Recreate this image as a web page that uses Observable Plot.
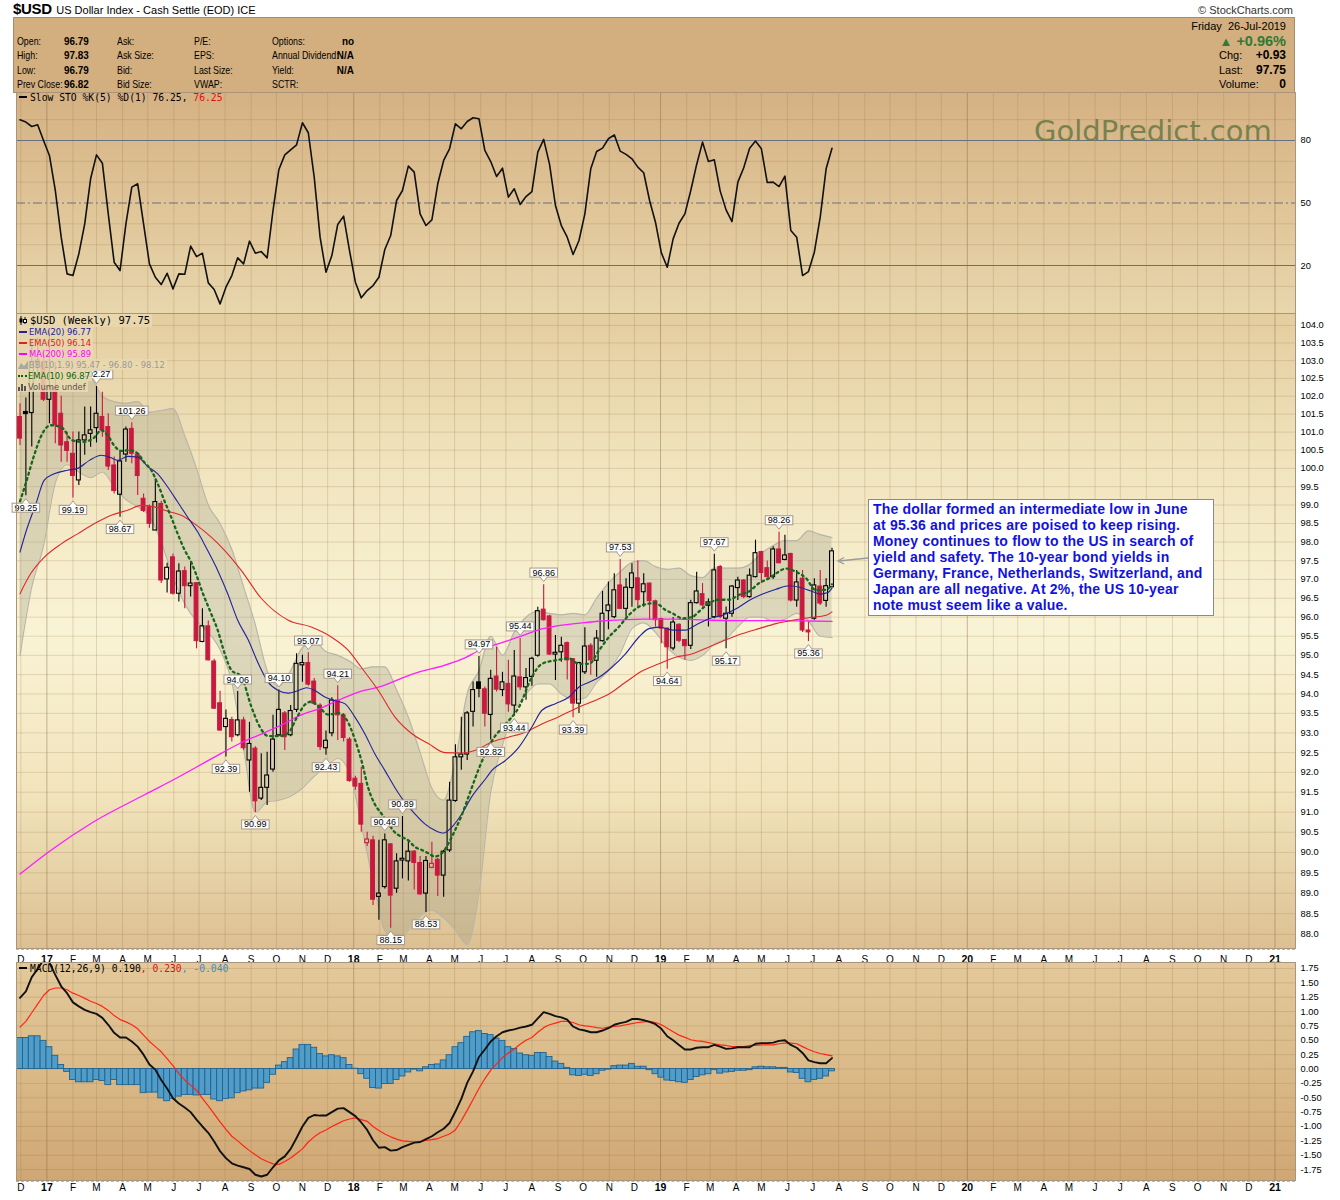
<!DOCTYPE html>
<html>
<head>
<meta charset="utf-8">
<script src="https://cdn.jsdelivr.net/npm/d3@7"></script>
<script src="https://cdn.jsdelivr.net/npm/@observablehq/plot@0.6"></script>
<style>
html,body{margin:0;padding:0;background:#fff;}
#page{position:relative;width:1340px;height:1200px;overflow:hidden;font-family:"Liberation Sans",Arial,sans-serif;color:#000;}
.a{position:absolute;white-space:nowrap;}
.hd{font-family:"Liberation Sans",Arial,sans-serif;font-size:10.5px;line-height:14px;transform:scaleX(0.84);transform-origin:left center;}
.hv{font-family:"Liberation Sans",Arial,sans-serif;font-size:11.5px;font-weight:bold;line-height:14px;transform:scaleX(0.86);transform-origin:left center;}
.hvr{font-family:"Liberation Sans",Arial,sans-serif;font-size:11.5px;font-weight:bold;line-height:14px;transform:scaleX(0.86);transform-origin:right center;}
.hr{font-family:"Liberation Sans",Arial,sans-serif;font-size:11px;line-height:14px;}
.hrb{font-family:"Liberation Sans",Arial,sans-serif;font-size:12px;font-weight:bold;line-height:14px;}
.mono{font-family:"DejaVu Sans Mono",monospace;font-size:9.7px;line-height:12px;}
.lg{font-family:"DejaVu Sans",sans-serif;font-stretch:condensed;font-size:9.3px;line-height:11px;background:rgba(234,216,176,0.85);padding:0 2px 0 1px;}
.plotwrap{position:absolute;left:0;}
</style>
</head>
<body>
<div id="page"></div>
<script>
// ---------------- DATA (weekly, first bar = week of 28-Nov-2016) ----------------
const opens = [101.42,101.56,101.53,102.95,102.95,101.90,102.25,101.51,100.72,100.40,
99.67,100.77,100.95,101.11,101.42,101.14,100.08,99.28,100.38,101.09,
100.38,99.17,98.94,98.31,99.03,97.00,97.59,96.62,97.22,96.82,
96.90,95.35,95.76,94.84,93.76,93.15,93.33,92.94,93.32,92.30,
92.60,91.34,91.61,92.07,92.94,93.50,92.94,93.59,94.74,94.80,
94.32,93.70,92.61,92.99,93.83,93.45,92.83,91.84,91.71,90.23,
90.30,88.91,89.15,90.20,89.11,89.80,89.78,90.02,89.74,88.99,
89.62,89.82,89.43,90.05,91.28,92.38,92.45,93.54,94.30,94.12,
93.46,94.45,94.10,94.26,93.70,94.43,94.17,94.44,94.99,96.20,
96.02,95.02,95.08,95.32,94.90,93.75,94.56,95.25,94.86,95.37,
96.16,96.00,96.84,96.22,96.77,97.03,96.66,96.89,96.42,95.95,
95.70,95.18,95.80,95.40,95.25,96.37,96.61,96.30,96.00,97.33,
95.96,96.09,96.77,96.97,96.53,97.06,97.73,97.30,97.06,97.80,
97.52,97.68,96.44,97.02,95.65,95.96,96.81,96.43,96.79];
const highs = [101.79,101.95,103.56,103.65,103.30,103.82,102.95,102.00,101.00,101.00,
101.00,101.70,101.70,102.27,102.11,101.51,100.31,100.45,101.14,101.26,
100.40,99.30,99.00,99.71,99.10,97.43,97.68,97.42,97.33,97.48,
96.92,96.22,95.90,94.90,94.07,93.59,93.40,94.06,93.40,93.27,
92.65,92.47,92.51,93.45,94.10,93.55,93.70,95.04,95.00,95.07,
94.40,93.75,93.05,93.90,94.21,93.50,92.88,91.90,92.13,90.50,
90.40,90.30,90.46,90.22,89.97,90.89,90.30,90.05,89.90,89.90,
90.25,89.85,90.05,91.75,92.70,93.40,93.55,94.31,94.97,94.18,
94.61,95.21,94.56,94.87,95.13,95.44,94.66,94.95,96.26,96.86,
96.05,95.52,95.47,95.35,94.92,94.82,95.72,95.30,95.65,96.68,
96.93,97.15,97.53,97.02,97.42,97.50,97.15,96.90,96.45,95.97,
95.72,95.99,95.83,95.42,96.45,97.19,96.89,96.48,97.67,97.37,
96.27,96.84,97.06,97.00,97.28,98.05,97.75,97.49,97.87,98.26,
98.18,97.70,97.24,97.24,95.87,97.02,97.24,97.02,97.83];
const lows = [100.63,99.25,100.59,102.65,101.85,101.23,100.68,100.17,100.17,99.19,
99.53,100.36,100.58,100.70,100.86,99.94,99.30,98.67,100.17,100.13,
99.26,98.80,98.37,98.31,96.89,96.64,96.58,96.40,96.22,96.53,
95.17,95.33,94.85,93.60,93.05,92.39,92.77,92.90,92.55,91.50,
90.99,91.29,91.17,92.00,92.90,92.55,92.90,93.52,94.30,94.20,
93.70,92.55,92.43,92.90,92.81,92.77,91.75,91.55,90.50,90.15,
88.70,88.34,89.10,88.15,89.00,89.35,89.30,89.08,88.95,88.53,
89.60,88.92,88.90,90.00,91.25,92.05,92.30,93.15,93.90,93.15,
92.82,94.05,93.93,93.53,93.44,94.09,93.84,94.20,94.95,95.90,
95.00,94.35,94.82,94.36,93.39,93.50,94.50,94.48,94.43,95.35,
95.67,95.96,96.20,96.00,96.26,96.26,96.26,95.92,95.74,95.30,
94.64,95.12,95.33,94.87,95.15,96.35,96.26,95.74,95.96,95.96,
95.17,96.00,96.44,96.49,96.50,97.04,96.89,96.97,97.00,97.42,
97.50,96.40,96.26,95.60,95.36,95.92,96.31,96.26,96.79];
const closes = [100.82,101.50,102.95,103.00,101.90,102.25,101.19,100.63,100.48,99.79,
100.77,100.91,101.05,101.51,101.05,100.05,99.38,100.19,101.07,100.40,
99.79,98.84,98.49,99.08,96.97,97.31,96.62,97.21,96.82,96.89,
95.37,95.76,94.87,93.62,93.06,93.36,92.89,93.32,92.61,92.72,
91.27,91.61,91.92,92.83,93.59,92.89,93.56,94.78,94.80,94.24,
93.75,92.64,92.80,93.83,93.45,92.87,91.78,91.64,90.69,90.32,
88.84,88.99,90.30,88.94,89.78,89.83,90.02,89.74,88.97,89.79,
89.72,89.43,90.02,91.29,92.38,92.45,93.50,94.10,94.13,93.49,
94.39,94.11,94.30,93.73,94.45,94.17,94.41,94.91,96.16,95.92,
95.02,95.04,95.25,94.87,93.75,94.80,95.23,94.87,95.44,96.09,
96.31,96.71,96.22,96.78,97.16,96.45,96.87,96.42,95.92,95.70,
95.21,95.86,95.38,95.24,96.37,96.68,96.31,96.39,97.24,96.00,
96.09,96.81,96.97,96.53,97.10,97.70,97.17,97.06,97.80,97.43,
97.64,96.44,96.92,95.65,95.60,96.84,96.36,96.82,97.75];

// overlays: [week index, value]
const ema10Pts = [[0,99.1],[1,99.6],[2.4,100.36],[3.8,100.96],[5.2,101.19],[7,101.14],[8.9,100.77],[10.6,100.73],[12.4,100.82],[13.8,101.05],[14.9,100.91],[16,100.63],[17.2,100.48],[18.6,100.5],[20,100.41],[21.1,100.17],[22.3,99.95],[23.4,99.58],[24.5,99.13],[25.7,98.67],[26.8,98.22],[28,97.78],[29.1,97.46],[29.9,97.15],[31.1,96.62],[32.5,96.09],[33.6,95.66],[34.8,95.04],[35.9,94.62],[37.6,94.45],[39.3,93.68],[40.7,93.17],[42.2,92.92],[43.9,92.92],[45.6,93.0],[47,93.38],[48.4,93.72],[49.5,93.8],[50.7,93.68],[52.4,93.47],[54.1,93.51],[55.5,93.34],[56.9,92.84],[58.1,92.26],[59.2,91.6],[60.3,91.2],[61.5,90.95],[62.6,90.71],[63.7,90.5],[64.9,90.38],[66,90.3],[67.1,90.14],[68.3,90.06],[69.4,89.98],[70.5,89.9],[71.7,89.98],[72.8,90.22],[73.9,90.54],[75,90.9],[76.5,91.5],[78,92.1],[80.2,92.8],[82.5,93.22],[84.8,93.66],[87,94.44],[88.7,94.78],[91,94.87],[93.3,94.92],[95,94.78],[96.7,94.78],[98.4,95.13],[100.1,95.48],[101.8,95.75],[103.5,96.06],[105.8,96.32],[108,96.37],[109.7,96.19],[110.9,96.1],[112.6,95.97],[114.3,96.01],[115.4,96.15],[117.1,96.37],[118.8,96.46],[120.5,96.46],[122.2,96.59],[123.9,96.68],[125.6,96.9],[127.3,97.03],[128.5,97.16],[130.2,97.29],[131.9,97.2],[133.6,97.03],[135.2,96.72],[136.9,96.72],[138,96.87]];
const ema20Pts = [[0,97.73],[1,98.27],[2.7,99.03],[4.1,99.67],[5.8,99.85],[8.1,99.95],[9.8,100.0],[11.8,100.22],[13.8,100.36],[15.5,100.29],[16.6,100.22],[18.3,100.33],[20,100.31],[21.7,100.05],[23.4,99.85],[25.1,99.49],[26.8,99.08],[28.5,98.67],[30.2,98.27],[31.9,97.77],[33.6,97.24],[35.3,96.62],[37,95.92],[38.8,95.4],[40.5,94.79],[42.2,94.3],[43.9,94.09],[45.6,94.02],[47.3,94.09],[48.7,94.16],[50.1,94.09],[51.8,93.92],[53.5,93.83],[55.2,93.75],[56.9,93.41],[58.6,92.98],[60.3,92.47],[62,92.05],[63.7,91.62],[65.4,91.25],[67.1,90.96],[68.8,90.71],[70.5,90.55],[72,90.48],[73.4,90.63],[75.1,90.96],[76.7,91.37],[79.3,91.87],[80.2,92.05],[82.5,92.3],[84.8,92.64],[87,93.15],[88.7,93.58],[91,93.75],[93.3,93.92],[95,94.18],[96.7,94.3],[98.4,94.43],[100.6,94.69],[102.9,95.04],[105.2,95.48],[106.9,95.7],[108.6,95.74],[110.9,95.66],[113.1,95.66],[114.8,95.79],[117.1,95.96],[119.4,96.05],[121.7,96.22],[123.9,96.44],[126.2,96.61],[128.5,96.74],[130.8,96.83],[132.5,96.79],[134.3,96.7],[136,96.61],[137.3,96.65],[138,96.77]];
const ema50Pts = [[0,96.62],[1.8,97.15],[4.1,97.59],[7,97.95],[9.8,98.22],[12.6,98.49],[15.5,98.72],[18.3,98.86],[20.6,98.99],[22.8,98.95],[25.1,98.83],[27.4,98.72],[29.7,98.49],[32.5,98.13],[34.8,97.77],[37.6,97.24],[41,96.5],[45.6,95.92],[49.5,95.74],[52.9,95.48],[55.8,95.13],[58,94.69],[60.9,94.09],[63.7,93.41],[66.6,92.98],[69.4,92.73],[72.2,92.5],[75.1,92.49],[77.4,92.56],[80.2,92.77],[83,92.89],[85.9,93.02],[88.7,93.23],[91.5,93.41],[94.4,93.62],[97.2,93.8],[100.1,94.0],[102.9,94.3],[105.8,94.6],[108.6,94.78],[111.4,94.95],[114.3,95.04],[117.1,95.22],[119.9,95.4],[122.8,95.57],[125.6,95.7],[128.5,95.83],[131.3,95.92],[134.2,95.99],[137,96.05],[138,96.14]];
const ma200Pts = [[0,89.47],[5.2,90.05],[12.4,90.75],[21.1,91.43],[26.8,91.87],[32.5,92.34],[37.6,92.75],[41,92.97],[44.4,93.2],[47.8,93.46],[51.2,93.64],[54.6,93.87],[58,94.07],[61.5,94.2],[64.9,94.41],[68.3,94.59],[71.7,94.72],[75.1,94.9],[78.5,95.16],[81.9,95.33],[85.3,95.51],[88.7,95.69],[92.1,95.79],[95.5,95.85],[98.9,95.9],[102.3,95.93],[105.8,95.95],[111.4,95.95],[117.1,95.92],[122.8,95.91],[128.5,95.91],[134.2,95.9],[138,95.89]];
const bbIdx = [0,2,4,6,8,10,12,14,16,18,20,22,24,26,28,30,32,34,36,38,40,42,44,46,48,50,52,54,56,58,60,62,64,66,68,70,72,74,76,78,80,82,84,86,88,90,92,94,96,98,100,102,104,106,108,110,112,114,116,118,120,122,124,126,128,130,132,134,136,138];
const bbUpper = [103.8,103.9,104.0,103.9,103.6,103.2,102.6,102.0,101.85,101.8,101.85,101.55,101.6,101.65,100.9,100.0,99.0,98.5,97.8,96.8,95.8,94.6,94.2,94.6,95.2,95.35,95.1,95.0,94.85,94.65,94.7,94.7,94.1,93.4,92.5,91.6,91.3,92.3,94.0,94.6,95.5,95.0,95.6,96.0,96.15,96.1,96.06,96.1,96.06,96.5,96.9,97.2,97.45,97.5,97.34,97.27,97.3,97.1,97.05,97.3,97.3,97.3,97.4,97.7,97.9,98.04,98.04,98.3,98.2,98.12];
const bbLower = [95.0,96.8,97.9,99.6,100.1,99.9,99.75,99.9,99.5,99.15,98.95,98.7,98.0,97.06,96.35,95.9,95.6,95.15,94.3,92.6,91.0,91.25,91.3,91.4,91.6,91.9,92.15,92.35,92.0,90.7,89.3,88.1,87.85,88.1,88.45,88.58,88.4,88.1,87.75,89.0,91.5,92.7,93.55,94.0,94.26,94.26,94.0,93.85,93.9,94.3,94.6,95.05,95.7,95.85,95.6,95.2,94.95,94.87,95.0,95.3,95.44,95.75,96.0,96.0,95.9,95.95,96.1,95.9,95.5,95.47];

// price labels (hi / lo flags)
const hlIdx = [1,9,17,19,13,35,37,40,44,49,52,54,62,63,65,69,78,80,84,85,89,94,102,110,118,120,129,134];
const hlVal = [99.25,99.19,98.67,101.26,102.27,92.39,94.06,90.99,94.10,95.07,92.43,94.21,90.46,88.15,90.89,88.53,94.97,92.82,93.44,95.44,96.86,93.39,97.53,94.64,97.67,95.17,98.26,95.36];
const hlPos = ["below","below","below","above","above","below","above","below","above","above","below","above","above","below","above","below","above","below","below","above","above","below","above","below","above","below","above","below"];

// Slow stochastic %K(5)
const stoValues = [89.9,88.8,86.7,87.5,80,72.8,56,33.6,16,15.2,25.6,40,61.6,73.1,69.1,44.8,21.6,17.6,40,57.6,
59.2,40,20.8,14.4,10.9,16.3,8.8,16,15.8,29.3,24.3,25.9,11.7,8.5,1.6,9.6,15.2,23.7,20.8,31.7,
25.9,26.7,23.7,46.4,66.1,73.1,75.5,77.9,88.5,83.7,62.4,33.6,16.8,24.8,39.7,43.7,27.2,12,4.5,8,
10.4,14.4,27.7,34.4,51.2,56,67.7,64.8,44.8,39.2,41.9,59.2,70.4,76,88,85.6,89.1,90.9,90.4,75.2,
69.9,62.7,66.7,52.8,56.8,49.3,53.1,55.5,74.4,80.5,68.5,48.8,39.2,33.6,25.3,32,44.8,66.4,74.7,76.3,
80.8,82.7,74.9,73.3,71.2,67.2,64.5,51.2,40.8,26.1,19.2,32.8,40.3,44.8,56,68.5,79.2,69.9,70.7,55.7,
46.7,41.1,60,66.9,76.3,79.7,76,59.8,60,57.9,62.9,36.8,33.6,15.2,17.1,26.4,43.2,66.4,76.25];

// MACD(12,26,9)
const macdValues = [1.24,1.35,1.60,1.74,1.90,1.85,1.64,1.44,1.32,1.16,1.09,1.03,0.99,0.96,0.89,0.77,0.63,0.55,0.55,0.48,
0.39,0.25,0.08,-0.01,-0.19,-0.34,-0.51,-0.60,-0.67,-0.75,-0.88,-1.00,-1.11,-1.26,-1.43,-1.55,-1.64,-1.68,-1.71,-1.74,
-1.84,-1.87,-1.84,-1.71,-1.59,-1.52,-1.39,-1.20,-1.00,-0.85,-0.80,-0.81,-0.81,-0.75,-0.69,-0.68,-0.75,-0.82,-0.93,-1.06,
-1.24,-1.37,-1.36,-1.42,-1.41,-1.36,-1.32,-1.28,-1.27,-1.22,-1.17,-1.10,-1.04,-0.94,-0.74,-0.52,-0.24,-0.04,0.21,0.34,
0.48,0.57,0.64,0.67,0.69,0.72,0.74,0.77,0.88,0.99,0.96,0.92,0.90,0.86,0.74,0.69,0.67,0.64,0.64,0.67,
0.71,0.77,0.80,0.82,0.87,0.87,0.85,0.82,0.78,0.70,0.57,0.50,0.42,0.34,0.34,0.37,0.38,0.38,0.42,0.39,
0.35,0.36,0.38,0.38,0.38,0.44,0.45,0.45,0.46,0.49,0.50,0.42,0.37,0.28,0.15,0.12,0.10,0.10,0.19];
const signalValues = [0.73,0.83,0.98,1.13,1.28,1.38,1.41,1.41,1.38,1.32,1.28,1.23,1.18,1.14,1.09,1.02,0.93,0.86,0.82,0.77,
0.70,0.59,0.48,0.39,0.30,0.18,0.06,-0.08,-0.19,-0.28,-0.37,-0.51,-0.64,-0.78,-0.92,-1.05,-1.17,-1.25,-1.34,-1.42,
-1.49,-1.56,-1.61,-1.65,-1.66,-1.61,-1.55,-1.47,-1.39,-1.27,-1.18,-1.11,-1.06,-1.00,-0.95,-0.90,-0.87,-0.85,-0.88,-0.91,
-1.00,-1.07,-1.13,-1.18,-1.22,-1.25,-1.26,-1.27,-1.27,-1.24,-1.23,-1.21,-1.17,-1.13,-1.06,-0.90,-0.72,-0.53,-0.34,-0.17,
-0.02,0.09,0.20,0.28,0.35,0.43,0.50,0.55,0.64,0.72,0.77,0.80,0.83,0.83,0.81,0.77,0.75,0.74,0.72,0.71,
0.73,0.74,0.75,0.77,0.79,0.81,0.82,0.83,0.81,0.77,0.71,0.65,0.59,0.55,0.51,0.49,0.48,0.46,0.44,0.42,
0.41,0.39,0.39,0.39,0.41,0.41,0.42,0.42,0.42,0.44,0.45,0.45,0.44,0.39,0.34,0.30,0.27,0.25,0.23];
const histValues = [0.54,0.54,0.57,0.57,0.49,0.38,0.23,0.07,-0.05,-0.19,-0.23,-0.23,-0.23,-0.19,-0.21,-0.28,-0.19,-0.28,-0.28,-0.28,
-0.28,-0.42,-0.41,-0.41,-0.51,-0.56,-0.52,-0.48,-0.45,-0.45,-0.46,-0.45,-0.45,-0.53,-0.56,-0.52,-0.51,-0.42,-0.39,-0.37,
-0.34,-0.34,-0.24,-0.10,0.06,0.12,0.19,0.34,0.42,0.42,0.37,0.26,0.22,0.24,0.22,0.19,0.07,0.005,-0.09,-0.17,
-0.33,-0.34,-0.26,-0.26,-0.19,-0.13,-0.06,-0.01,-0.04,0.03,0.07,0.08,0.15,0.24,0.38,0.45,0.56,0.64,0.66,0.61,
0.59,0.53,0.49,0.38,0.35,0.27,0.24,0.23,0.28,0.28,0.21,0.13,0.09,0.02,-0.11,-0.12,-0.10,-0.12,-0.09,-0.03,
-0.01,0.05,0.06,0.06,0.09,0.04,0.04,-0.02,-0.09,-0.15,-0.20,-0.21,-0.23,-0.24,-0.19,-0.14,-0.11,-0.09,-0.02,-0.08,
-0.06,-0.05,-0.03,-0.03,-0.02,0.03,0.04,0.03,0.03,0.02,0.02,-0.06,-0.07,-0.17,-0.23,-0.19,-0.17,-0.13,-0.04];

// axis tick values
const priceTicks = d3.range(88, 104.001, 0.5);
const stoTicks = [20, 50, 80];
const macdTicks = d3.range(-1.75, 1.7501, 0.25);
const monthLetters = "JFMAMJJASOND";

// ---------------- helpers ----------------
const DAY = 864e5, t0 = Date.UTC(2016, 10, 30);
const wk = i => new Date(t0 + i * 7 * DAY);
const xDomain = [new Date(Date.UTC(2016, 10, 25, 20)), new Date(Date.UTC(2021, 0, 25, 10))];
const W = 1340, ML = 16, MR = 45;
const RED = "#c8193f";
const ABOVE_FILL = "#010101", BELOW_FILL = "#020202";
const months = d3.utcMonth.range(new Date(Date.UTC(2016, 11, 1)), new Date(Date.UTC(2021, 1, 1)));
const gridMonths = () => Plot.ruleX(months, {x: d => d, stroke: d => d.getUTCMonth() === 0 ? "rgba(130,98,60,0.42)" : "rgba(150,115,70,0.24)"});
const pts = arr => arr.map(([i, v]) => ({date: wk(i), v}));
const page = document.getElementById("page");
function el(html, css, cls) {
  const d = document.createElement("div");
  d.className = "a" + (cls ? " " + cls : "");
  d.innerHTML = html;
  d.style.cssText += css;
  page.appendChild(d);
  return d;
}
const baseStyle = {background: "transparent", overflow: "visible", fontFamily: "Liberation Sans, Arial, sans-serif", fontSize: "9.3px"};

// ---------------- backgrounds & header ----------------
el("", "left:16px;top:92px;width:1279px;height:221px;background:linear-gradient(to bottom,#d5b183 0%,#e0c699 55%,#e8d6ad 100%);");
el("", "left:16px;top:313px;width:1279px;height:635px;background:linear-gradient(to bottom,#e4cd9f 0%,#f1e5bf 25%,#f9f3d5 50%,#f2e5bd 75%,#dcc092 100%);");
el("", "left:16px;top:962px;width:1279px;height:218px;background:linear-gradient(to bottom,#e3c99b 0%,#d9b886 55%,#cfa774 100%);");
el("", "left:16px;top:949px;width:1279px;height:12px;border-top:1px dashed #c9b0b0;border-bottom:1px dashed #c9b0b0;");
el("", "left:16px;top:1181px;width:1279px;height:0;border-top:1px dashed #c9b0b0;");

el('<b style="font-size:15px;letter-spacing:-0.3px">$USD</b> <span style="font-size:11px">US Dollar Index - Cash Settle (EOD) ICE</span>', "left:13px;top:0px;line-height:17px;");
el("© StockCharts.com", "right:47px;top:3px;font-size:11px;color:#333;line-height:14px;");
el("", "left:13px;top:17px;width:1282px;height:76px;box-sizing:border-box;background:#d3ae7e;border:1px solid #a68c6c;");

const rowsY = [41, 55, 70, 84];
const hdr = [
  [17, ["Open:", "High:", "Low:", "Prev Close:"]],
  [117, ["Ask:", "Ask Size:", "Bid:", "Bid Size:"]],
  [194, ["P/E:", "EPS:", "Last Size:", "VWAP:"]],
  [272, ["Options:", "Annual Dividend:", "Yield:", "SCTR:"]]
];
hdr.forEach(([x, labels]) => labels.forEach((t, k) => el(t, `left:${x}px;top:${rowsY[k] - 7}px;`, "hd")));
["96.79", "97.83", "96.79", "96.82"].forEach((t, k) => el(t, `left:64px;top:${rowsY[k] - 7}px;`, "hv"));
["no", "N/A", "N/A"].forEach((t, k) => el(t, `right:${1340 - 354}px;top:${rowsY[k] - 7}px;`, "hvr"));
el("Friday&nbsp;&nbsp;26-Jul-2019", "right:54px;top:19px;", "hr");
el('<span style="font-size:13px">&#9650;</span> +0.96%', "right:54px;top:33px;color:#2f7a34;font-size:14.5px;font-weight:bold;line-height:16px;");
["Chg:", "Last:", "Volume:"].forEach((t, k) => el(t, `left:1219px;top:${rowsY[k + 1] - 7}px;`, "hr"));
["+0.93", "97.75", "0"].forEach((t, k) => el(t, `right:54px;top:${rowsY[k + 1] - 7}px;`, "hrb"));

// ---------------- stochastic panel ----------------
const sto = stoValues.map((v, i) => ({date: wk(i), v}));
const stoPlot = Plot.plot({
  width: W, height: 221, marginLeft: ML, marginRight: MR, marginTop: 0, marginBottom: 0,
  x: {type: "utc", domain: xDomain, axis: null},
  y: {domain: [-3, 103], axis: null},
  style: baseStyle,
  marks: [
    gridMonths(),
    Plot.ruleY([10, 30, 40, 60, 70, 90], {stroke: "rgba(150,115,70,0.22)"}),
    Plot.ruleY([80, 20], {stroke: "#67707f", strokeWidth: 1.1}),
    Plot.ruleY([50], {stroke: "#67707f", strokeWidth: 1, strokeDasharray: "9,3,2,3"}),
    Plot.line(sto, {x: "date", y: "v", stroke: "#111", strokeWidth: 1.6, clip: true}),
    Plot.text(stoTicks, {y: d => d, text: d => String(d), frameAnchor: "right", textAnchor: "start", dx: 5, fontSize: 9.3, fill: "#000"}),
    Plot.frame({stroke: "#a8957c"})
  ]
});
const w1 = document.createElement("div"); w1.className = "plotwrap"; w1.style.top = "92px"; w1.appendChild(stoPlot); page.appendChild(w1);

el("GoldPredict.com", "left:1034px;top:114px;font-family:'DejaVu Sans',sans-serif;font-size:29px;line-height:34px;color:#6f7c48;opacity:0.9;");
el('<span style="display:inline-block;width:8px;height:2px;background:#000;vertical-align:middle;margin-right:3px;margin-bottom:2px"></span>Slow STO %K(5) %D(1) 76.25, <span style="color:#e01010">76.25</span>', "left:19px;top:92px;", "mono");

// ---------------- price panel ----------------
const candles = opens.map((o, i) => {
  const c = closes[i], prev = i ? closes[i - 1] : Infinity;
  const col = c < prev ? RED : "#000";
  let lo = Math.min(o, c), hi = Math.max(o, c);
  if (hi / lo < 1.0005) hi = lo * 1.0005;
  return {date: wk(i), x1: new Date(+wk(i) - 2.3 * DAY), x2: new Date(+wk(i) + 2.3 * DAY), o, h: highs[i], l: lows[i], c, col, lo, hi, filled: c < o};
});
const bb = bbIdx.map((i, k) => ({date: wk(i), upper: bbUpper[k], lower: bbLower[k]}));
const hl = hlIdx.map((i, k) => ({date: wk(i), v: hlVal[k], pos: hlPos[k]}));

const pricePlot = Plot.plot({
  width: W, height: 635, marginLeft: ML, marginRight: MR, marginTop: 0, marginBottom: 0,
  x: {type: "utc", domain: xDomain, axis: null},
  y: {type: "log", domain: [87.66, 104.34], axis: null},
  style: baseStyle,
  marks: [
    gridMonths(),
    Plot.ruleY(priceTicks, {stroke: "rgba(150,115,70,0.22)"}),
    Plot.areaY(bb, {x: "date", y1: "lower", y2: "upper", fill: "#9d9a88", fillOpacity: 0.3, curve: "monotone-x", clip: true}),
    Plot.line(bb, {x: "date", y: "upper", stroke: "#b9b6a8", strokeWidth: 1.2, curve: "monotone-x", clip: true}),
    Plot.line(bb, {x: "date", y: "lower", stroke: "#b9b6a8", strokeWidth: 1.2, curve: "monotone-x", clip: true}),
    Plot.ruleX(candles, {x: "date", y1: "l", y2: "lo", stroke: "col", strokeWidth: 1.1, clip: true}),
    Plot.ruleX(candles, {x: "date", y1: "hi", y2: "h", stroke: "col", strokeWidth: 1.1, clip: true}),
    Plot.rect(candles.filter(d => d.filled), {x1: "x1", x2: "x2", y1: "lo", y2: "hi", fill: "col", stroke: "col", strokeWidth: 1, clip: true}),
    Plot.rect(candles.filter(d => !d.filled), {x1: "x1", x2: "x2", y1: "lo", y2: "hi", fill: "none", stroke: "col", strokeWidth: 1.1, clip: true}),
    Plot.line(pts(ma200Pts), {x: "date", y: "v", stroke: "#ff1cff", strokeWidth: 1.3, curve: "monotone-x", clip: true}),
    Plot.line(pts(ema50Pts), {x: "date", y: "v", stroke: "#dd2a2a", strokeWidth: 1.1, curve: "monotone-x", clip: true}),
    Plot.line(pts(ema20Pts), {x: "date", y: "v", stroke: "#22229a", strokeWidth: 1.1, curve: "monotone-x", clip: true}),
    Plot.line(pts(ema10Pts), {x: "date", y: "v", stroke: "#17661a", strokeWidth: 2.3, strokeDasharray: "2,3.6", curve: "monotone-x", clip: true}),
    Plot.text(priceTicks, {y: d => d, text: d => d.toFixed(1), frameAnchor: "right", textAnchor: "start", dx: 5, fontSize: 9.3, fill: "#000"}),
    Plot.text(hl.filter(d => d.pos === "above"), {x: "date", y: "v", text: d => d.v.toFixed(2), dy: -12, fontSize: 9, fill: ABOVE_FILL}),
    Plot.text(hl.filter(d => d.pos === "below"), {x: "date", y: "v", text: d => d.v.toFixed(2), dy: 12, fontSize: 9, fill: BELOW_FILL}),
    Plot.frame({stroke: "#a8957c"})
  ]
});
const w2 = document.createElement("div"); w2.className = "plotwrap"; w2.style.top = "313px"; w2.appendChild(pricePlot); page.appendChild(w2);

// white flag boxes behind the hi/lo labels
(function decorate(svg) {
  const ns = "http://www.w3.org/2000/svg";
  const fillOf = t => (t.getAttribute("fill") || (t.parentNode && t.parentNode.getAttribute && t.parentNode.getAttribute("fill")) || "").toLowerCase();
  Array.from(svg.querySelectorAll("text")).forEach(t => {
    const f = fillOf(t);
    const pos = f === ABOVE_FILL ? "above" : f === BELOW_FILL ? "below" : null;
    if (!pos) return;
    try {
      const b = t.getBBox();
      const tr = t.getAttribute("transform");
      const g = document.createElementNS(ns, "g");
      if (tr) g.setAttribute("transform", tr);
      const x0 = b.x - 2.5, y0 = b.y + 0.5, w = b.width + 5, h = Math.max(8, b.height - 1);
      const r = document.createElementNS(ns, "rect");
      r.setAttribute("x", x0); r.setAttribute("y", y0); r.setAttribute("width", w); r.setAttribute("height", h);
      r.setAttribute("fill", "#fff"); r.setAttribute("stroke", "#a8988a"); r.setAttribute("stroke-width", "1");
      const cx = b.x + b.width / 2;
      const p = document.createElementNS(ns, "path");
      const d = pos === "above"
        ? `M${cx - 4},${y0 + h - 0.6}L${cx},${y0 + h + 4.5}L${cx + 4},${y0 + h - 0.6}`
        : `M${cx - 4},${y0 + 0.6}L${cx},${y0 - 4.5}L${cx + 4},${y0 + 0.6}`;
      p.setAttribute("d", d); p.setAttribute("fill", "#fff"); p.setAttribute("stroke", "#a8988a"); p.setAttribute("stroke-width", "1");
      g.appendChild(r); g.appendChild(p);
      t.parentNode.insertBefore(g, t);
    } catch (e) {}
  });
})(pricePlot);

// price legend
const dash = c => `<span style="display:inline-block;width:8px;height:2px;background:${c};vertical-align:middle;margin:0 2px 2px 1px"></span>`;
const legendRows = [
  ['<svg width="9" height="9" style="vertical-align:-1px;margin-right:2px"><path d="M2,0V9M6,1V8" stroke="#000"/><rect x="0.5" y="2.5" width="3" height="4" fill="#000"/><rect x="4.5" y="3.5" width="3" height="3" fill="#fff" stroke="#000"/></svg>$USD (Weekly) 97.75', "#000", true],
  [dash("#22229a") + "EMA(20) 96.77", "#22229a"],
  [dash("#dd2020") + "EMA(50) 96.14", "#dd2020"],
  [dash("#ff00ff") + "MA(200) 95.89", "#ff00ff"],
  ['<svg width="10" height="8" style="vertical-align:-1px;margin-right:1px"><path d="M0,8L3,2L6,5L10,0V8Z" fill="#a9a9a0"/></svg>BB(10,1.9) 95.47 - 96.80 - 98.12', "#999"],
  ['<span style="display:inline-block;width:9px;height:0;border-top:2px dotted #0a640a;vertical-align:middle;margin:0 1px 2px 0"></span>EMA(10) 96.87', "#0a640a"],
  ['<svg width="9" height="8" style="vertical-align:-1px;margin-right:1px"><path d="M0,8V4H2V8M3,8V1H5V8M6,8V3H8V8" fill="#555"/></svg>Volume undef', "#555"]
];
legendRows.forEach(([html, color, big], k) => {
  const cy = [320.5, 331.5, 342.5, 353.5, 364.5, 375.5, 386.5][k];
  if (big) el(html, `left:17px;top:${cy - 6.5}px;color:${color};font-family:'DejaVu Sans Mono',monospace;font-size:10.5px;line-height:13px;background:rgba(234,216,176,0.85);padding:0 2px;`);
  else el(html, `left:17px;top:${cy - 5.5}px;color:${color};`, "lg");
});

// annotation
el("The dollar formed an intermediate low in June<br>at 95.36 and prices are poised to keep rising.<br>Money continues to flow to the US in search of<br>yield and safety. The 10-year bond yields in<br>Germany, France, Netherlands, Switzerland, and<br>Japan are all negative. At 2%, the US 10-year<br>note must seem like a value.",
  "left:868px;top:499px;width:346px;height:117px;box-sizing:border-box;background:#fff;border:1px solid #8a8a8a;padding:1px 4px;font-family:'Liberation Sans',Arial,sans-serif;font-weight:bold;font-size:14px;letter-spacing:0.2px;line-height:16px;color:#1212e0;");
el('<svg width="34" height="14"><path d="M33,5L4,8" stroke="#9a9a9a" stroke-width="1.3" fill="none"/><path d="M9,4.5L3,8L9,11" stroke="#9a9a9a" stroke-width="1.3" fill="none"/></svg>', "left:835px;top:553px;");

// ---------------- MACD panel ----------------
const macd = macdValues.map((v, i) => ({date: wk(i), v}));
const signal = signalValues.map((v, i) => ({date: wk(i), v}));
const hist = histValues.map((v, i) => ({x1: new Date(+wk(i) - 3.5 * DAY), x2: new Date(+wk(i) + 3.5 * DAY), v}));
const monthText = d => d.getUTCMonth() === 0 ? String(d.getUTCFullYear()).slice(2) : monthLetters[d.getUTCMonth()];
const mLetters = months.filter(d => d.getUTCMonth() !== 0);
const mYears = months.filter(d => d.getUTCMonth() === 0);
const macdPlot = Plot.plot({
  width: W, height: 252, marginLeft: ML, marginRight: MR, marginTop: 14, marginBottom: 20,
  x: {type: "utc", domain: xDomain, axis: null},
  y: {domain: [-1.94, 1.854], axis: null},
  style: baseStyle,
  marks: [
    gridMonths(),
    Plot.ruleY(macdTicks, {stroke: "rgba(150,115,70,0.24)"}),
    Plot.rect(hist, {x1: "x1", x2: "x2", y1: 0, y2: "v", fill: "#4f9dc8", stroke: "#22628e", strokeWidth: 0.9}),
    Plot.line(signal, {x: "date", y: "v", stroke: "#ff2416", strokeWidth: 1.2, clip: true}),
    Plot.line(macd, {x: "date", y: "v", stroke: "#111", strokeWidth: 1.9, clip: true}),
    Plot.text(macdTicks, {y: d => d, text: d => d.toFixed(2), frameAnchor: "right", textAnchor: "start", dx: 5, fontSize: 9.3, fill: "#000"}),
    Plot.text(mLetters, {x: d => d, text: monthText, frameAnchor: "top", dy: -7, fontSize: 10, fill: "#000"}),
    Plot.text(mYears, {x: d => d, text: monthText, frameAnchor: "top", dy: -7, fontSize: 10.5, fontWeight: "bold", fill: "#000"}),
    Plot.text(mLetters, {x: d => d, text: monthText, frameAnchor: "bottom", dy: 10, fontSize: 10, fill: "#000"}),
    Plot.text(mYears, {x: d => d, text: monthText, frameAnchor: "bottom", dy: 10, fontSize: 10.5, fontWeight: "bold", fill: "#000"}),
    Plot.frame({stroke: "#a8957c"})
  ]
});
const w3 = document.createElement("div"); w3.className = "plotwrap"; w3.style.top = "948px"; w3.appendChild(macdPlot); page.appendChild(w3);

el('<span style="display:inline-block;width:8px;height:2px;background:#000;vertical-align:middle;margin-right:3px;margin-bottom:2px"></span>MACD(12,26,9) 0.190<span style="color:#e01010">, 0.230</span><span style="color:#3a8fc8">, -0.040</span>', "left:19px;top:963px;", "mono");
</script>
</body>
</html>
